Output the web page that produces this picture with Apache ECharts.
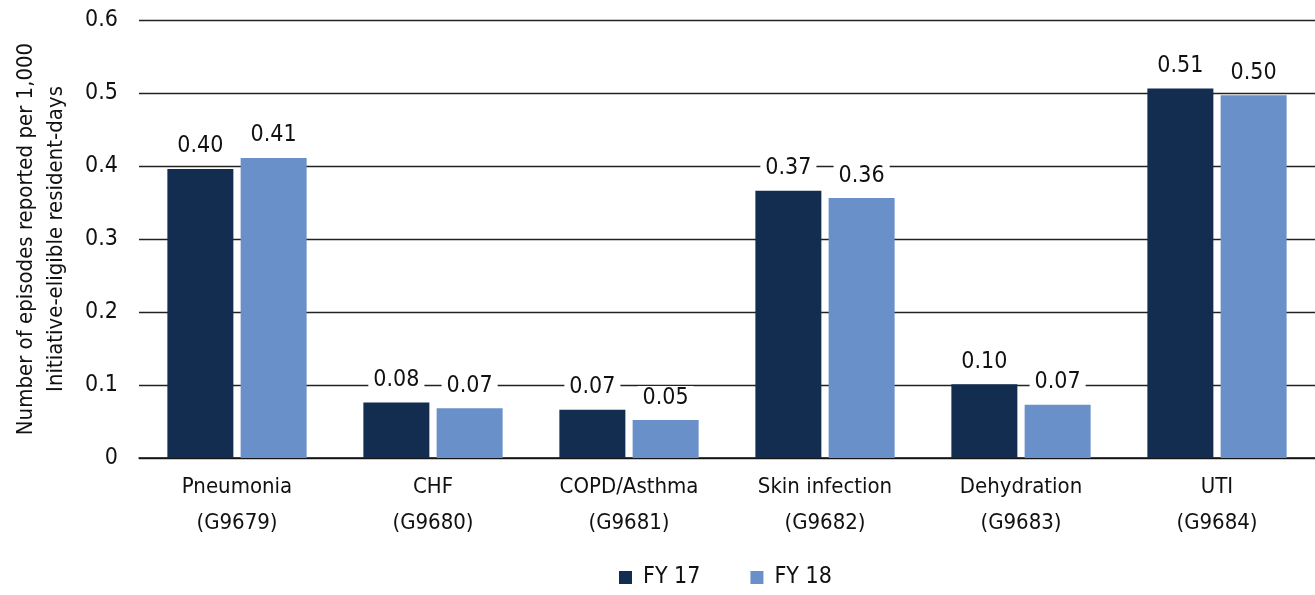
<!DOCTYPE html>
<html>
<head>
<meta charset="utf-8">
<script src="https://cdn.jsdelivr.net/npm/echarts@6/dist/echarts.min.js"></script>
<style>
  html, body { margin: 0; padding: 0; background: #fff; }
  #chart { width: 1315px; height: 595px; }
</style>
</head>
<body>
<div id="chart"></div>
<script>
// categories and values
var categories = ['Pneumonia\n(G9679)', 'CHF\n(G9680)', 'COPD/Asthma\n(G9681)', 'Skin infection\n(G9682)', 'Dehydration\n(G9683)', 'UTI\n(G9684)'];
var fy17 = [0.396, 0.076, 0.066, 0.366, 0.101, 0.506];
var fy18 = [0.411, 0.068, 0.052, 0.356, 0.073, 0.497];
var seriesNames = ['FY 17', 'FY 18'];
var yTicks = [0, 0.1, 0.2, 0.3, 0.4, 0.5, 0.6];

var font = '"Liberation Sans Narrow", "DejaVu Sans Condensed", "Roboto Condensed", "Arial Narrow", sans-serif';
var colors = ['#132d51', '#6990c9'];

var myChart = echarts.init(document.getElementById('chart'));

function barLabel() {
    return {
        show: true,
        position: 'top',
        distance: 11,
        color: '#111',
        fontFamily: font,
        fontSize: 23,
        backgroundColor: '#fff',
        padding: [0, 5],
        formatter: function (p) { return p.value.toFixed(2); }
    };
}

var option = {
    animation: false,
    textStyle: { fontFamily: font },
    grid: {
        left: 139,
        right: 0,
        top: 20,
        bottom: 137,
        containLabel: false,
        outerBoundsMode: 'none'
    },
    legend: {
        bottom: 1,
        left: 614,
        icon: 'rect',
        itemWidth: 13,
        itemHeight: 13,
        itemGap: 50,
        textStyle: { fontFamily: font, fontSize: 23, color: '#111', padding: [0, 0, 0, 6] },
        data: seriesNames
    },
    xAxis: {
        type: 'category',
        data: categories,
        axisLine: { lineStyle: { color: '#111', width: 1.5 } },
        axisTick: { show: false },
        axisLabel: {
            interval: 0,
            color: '#111',
            fontFamily: font,
            fontSize: 22,
            lineHeight: 36,
            margin: 11
        }
    },
    yAxis: {
        type: 'value',
        min: yTicks[0],
        max: yTicks[yTicks.length - 1],
        interval: 0.1,
        name: 'Number of episodes reported per 1,000\nInitiative-eligible resident-days',
        nameLocation: 'middle',
        nameRotate: 90,
        nameGap: 68,
        nameTextStyle: { fontFamily: font, fontSize: 22, color: '#111', lineHeight: 30 },
        axisLine: { show: false },
        axisTick: { show: false },
        axisLabel: {
            color: '#111',
            fontFamily: font,
            fontSize: 23,
            margin: 21,
            formatter: function (v) { return v === 0 ? '0' : v.toFixed(1); }
        },
        splitLine: { lineStyle: { color: '#222', width: 1.3 } }
    },
    series: [
        {
            name: seriesNames[0],
            type: 'bar',
            barWidth: 66,
            barGap: '11%',
            itemStyle: { color: colors[0] },
            label: barLabel(),
            data: fy17
        },
        {
            name: seriesNames[1],
            type: 'bar',
            barWidth: 66,
            barGap: '11%',
            itemStyle: { color: colors[1] },
            label: barLabel(),
            data: fy18
        }
    ]
};

myChart.setOption(option);
window.addEventListener('resize', function () { myChart.resize(); });
</script>
</body>
</html>
